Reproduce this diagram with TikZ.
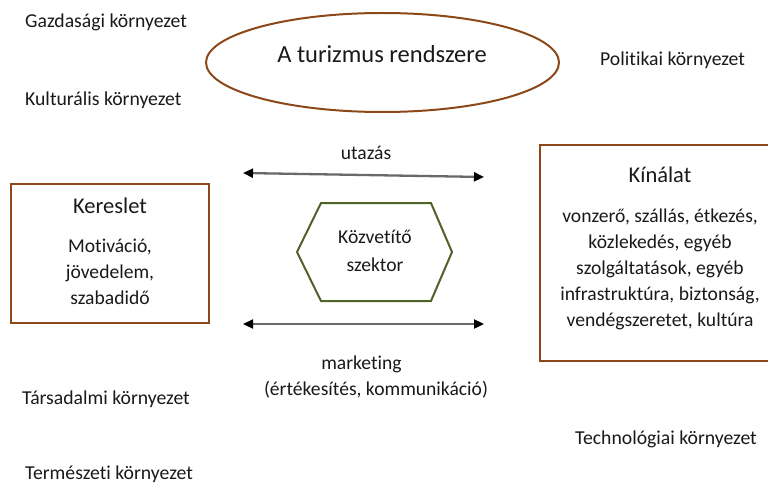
\documentclass[tikz,border=0pt]{standalone}
\usepackage{fontspec}
\setmainfont{Carlito}[Ligatures=NoCommon]
\usetikzlibrary{arrows.meta,shapes.geometric}
\definecolor{framebrown}{RGB}{140,72,25}
\definecolor{hexgreen}{RGB}{79,98,40}
\definecolor{ink}{RGB}{25,25,25}
\definecolor{shaft}{RGB}{105,105,105}
\tikzset{
  envlabel/.style={anchor=base west, inner sep=0pt, text=ink, font=\fontsize{19.7}{26}\selectfont},
  body/.style={anchor=base, inner sep=0pt, text=ink, align=center, font=\fontsize{19.6}{26}\selectfont},
  heading/.style={anchor=base, inner sep=0pt, text=ink, font=\fontsize{22.5}{27}\selectfont},
  panel/.style={draw=framebrown, line width=2pt, inner sep=0pt},
  flow/.style={draw=shaft, line width=2.3pt,
    {Triangle[length=10pt,width=9pt,black]}-{Triangle[length=10pt,width=9pt,black]}},
}
\begin{document}
\begin{tikzpicture}[x=1pt,y=-1pt]
\clip (0,0) rectangle (768,484);

% environment labels around the system
\node[envlabel] (gazd) at (25,28) {Gazdasági környezet};
\node[envlabel] (kult) at (25,106) {Kulturális környezet};
\node[envlabel] (pol) at (600,66) {Politikai környezet};
\node[envlabel] (tars) at (22,404) {Társadalmi környezet};
\node[envlabel] (term) at (25,479) {Természeti környezet};
\node[envlabel] (tech) at (575,444) {Technológiai környezet};

% the tourism system
\node[ellipse, draw=framebrown, line width=2pt, minimum width=353, minimum height=99, inner sep=0pt] (system) at (382.5,62.5) {};
\node[anchor=base, inner sep=0pt, text=ink, font=\fontsize{24.5}{29}\selectfont] (systemlabel) at (382,63) {A turizmus rendszere};

% demand (multi-line nodes are placed by the baseline of their last line)
\node[panel, minimum width=198, minimum height=139] (demand) at (110,253.5) {};
\node[heading] (demandtitle) at (110,213) {Kereslet};
\node[body] (demandtext) at (110,304) {Motiváció,\\jövedelem,\\szabadidő};

% supply
\node[panel, minimum width=235, minimum height=216] (supply) at (657.5,253) {};
\node[heading] (supplytitle) at (660,182) {Kínálat};
\node[body] (supplytext) at (660,326) {vonzerő, szállás, étkezés,\\közlekedés, egyéb\\szolgáltatások, egyéb\\infrastruktúra, biztonság,\\vendégszeretet, kultúra};

% intermediary sector
\coordinate (hexW) at (297,252);
\coordinate (hexNW) at (321,203);
\coordinate (hexNE) at (431,203);
\coordinate (hexE) at (452,252);
\coordinate (hexSE) at (431,301);
\coordinate (hexSW) at (321,301);
\draw[hexgreen, line width=2pt, line join=miter] (hexW) -- (hexNW) -- (hexNE) -- (hexE) -- (hexSE) -- (hexSW) -- cycle;
\node[body, font=\fontsize{19.6}{28}\selectfont] (broker) at (375,271) {Közvetítő\\szektor};

% flows between demand and supply
\coordinate (travelL) at (243,173);
\coordinate (travelR) at (484,177);
\draw[flow] (travelL) -- (travelR);
\node[body] (travel) at (366,160) {utazás};

\coordinate (marketL) at (243,324);
\coordinate (marketR) at (484,324);
\draw[flow] (marketL) -- (marketR);
\node[body] (market) at (376,395) {marketing\hspace*{29pt}\\(értékesítés, kommunikáció)};
\end{tikzpicture}
\end{document}
